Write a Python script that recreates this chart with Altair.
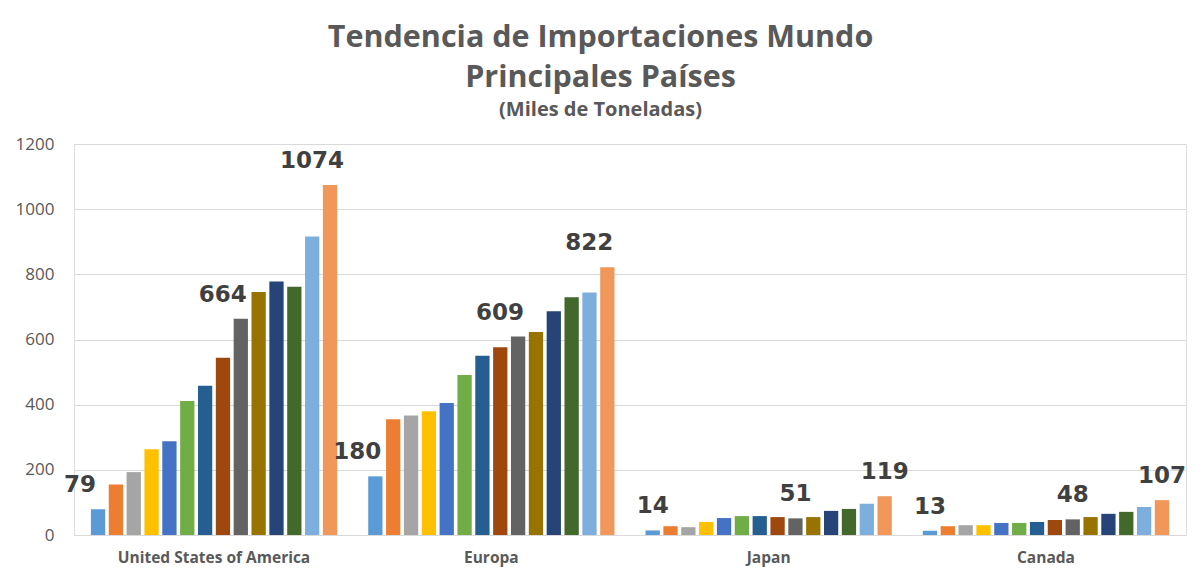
import altair as alt
import pandas as pd

countries = ["United States of America", "Europa", "Japan", "Canada"]
series = ["2004", "2005", "2006", "2007", "2008", "2009", "2010",
          "2011", "2012", "2013", "2014", "2015", "2016", "2017"]
usa = [79, 155, 193, 263, 288, 411, 458, 544, 664, 746, 778, 762, 916, 1074]
europa = [180, 355, 367, 380, 405, 491, 550, 576, 609, 623, 687, 730, 744, 822]
japan = [14, 27, 24, 40, 52, 58, 58, 55, 51, 55, 74, 80, 96, 119]
canada = [13, 27, 30, 30, 37, 37, 40, 46, 48, 55, 65, 71, 86, 107]
colors = ["#5B9BD5", "#ED7D31", "#A5A5A5", "#FFC000", "#4472C4", "#70AD47", "#255E91",
          "#9E480E", "#636363", "#997300", "#264478", "#43682B", "#7CAFDD", "#F1975A"]
labeled = ["2004", "2012", "2017"]
big = ["United States of America", "Europa"]

rows = []
for c, vals in zip(countries, [usa, europa, japan, canada]):
    for s, v in zip(series, vals):
        rows.append({"pais": c, "serie": s, "valor": v})
df = pd.DataFrame(rows)

x = alt.X("pais:N", sort=countries, title=None,
          scale=alt.Scale(paddingInner=0.112, paddingOuter=0.061),
          axis=alt.Axis(labelAngle=0, labelFontSize=15.5, labelFontWeight="bold",
                        labelColor="#595959", labelFont="Open Sans", ticks=False,
                        domainColor="#D9D9D9", labelPadding=15, labelLimit=0))
xo = alt.XOffset("serie:N", sort=series, scale=alt.Scale(paddingInner=0.2))
y = alt.Y("valor:Q", title=None,
          scale=alt.Scale(domain=[0, 1200]),
          axis=alt.Axis(values=[0, 200, 400, 600, 800, 1000, 1200], format="d",
                        labelFontSize=17,
                        labelColor="#595959", labelFont="Open Sans", ticks=False,
                        domain=False, gridColor="#D9D9D9", labelPadding=20))

bars = alt.Chart(df).mark_bar().encode(
    x=x, xOffset=xo, y=y,
    color=alt.Color("serie:N", sort=series, scale=alt.Scale(domain=series, range=colors), legend=None),
)

base_text = alt.Chart(df).transform_filter(
    alt.FieldOneOfPredicate(field="serie", oneOf=labeled)
)
text_style = dict(fontSize=23, fontWeight="bold", color="#404040", font="DejaVu Sans",
                  baseline="bottom", dy=-12)

texts_big = base_text.transform_filter(
    alt.FieldOneOfPredicate(field="pais", oneOf=big)
).mark_text(dx=-18, **text_style).encode(x=x, xOffset=xo, y=y, text="valor:Q")

texts_small = base_text.transform_filter(
    ~alt.FieldOneOfPredicate(field="pais", oneOf=big)
).mark_text(**text_style).encode(x=x, xOffset=xo, y=y, text="valor:Q")

chart = alt.layer(bars, texts_big, texts_small).properties(
    width=1112, height=391,
    padding={"left": 7, "top": 14, "right": 5, "bottom": 5},
    title=alt.TitleParams(
        text=["Tendencia de Importaciones Mundo", "Principales Países"],
        subtitle="(Miles de Toneladas)",
        fontSize=30.5, fontWeight="bold", color="#595959", font="Open Sans",
        lineHeight=40, subtitleFontSize=20, subtitleFontWeight="bold",
        subtitleColor="#595959", subtitleFont="Open Sans", subtitlePadding=7,
        anchor="middle", frame="bounds", offset=15,
    ),
).configure_view(stroke=None).configure(background="white")

chart.save("out.html", embed_options={"renderer": "svg", "actions": False})
